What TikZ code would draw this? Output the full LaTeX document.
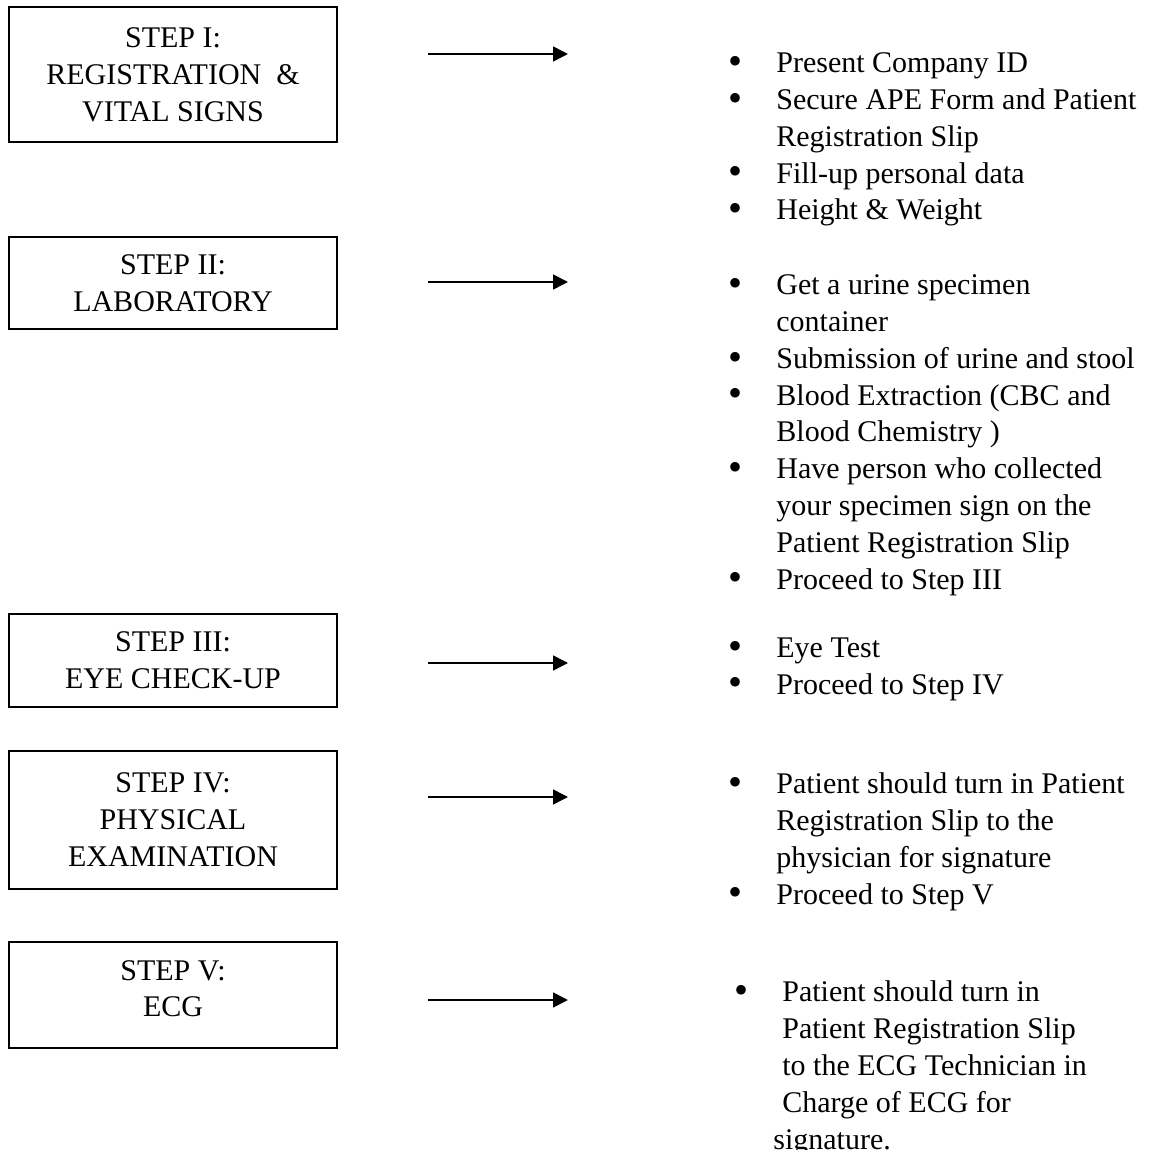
\documentclass[tikz,border=0pt]{standalone}
\usepackage{fontspec}
\setmainfont{Liberation Serif}
\usetikzlibrary{positioning,arrows.meta}
\newcommand{\bul}{\llap{\raisebox{-0.9pt}{\fontsize{20}{20}\selectfont\textbullet}\hspace{17pt}}}

\begin{document}
\begin{tikzpicture}[x=0.5pt, y=-0.5pt,
    boxStyle/.style={
        rectangle, draw=black, line width=0.8pt, minimum width=164pt,
        align=center, inner sep=0pt, font=\fontsize{15}{18.4}\selectfont
    },
    listStyle/.style={
        anchor=base west, align=left, inner sep=0pt, font=\fontsize{15}{18.4}\selectfont
    },
    arrowStyle/.style={-{Triangle[length=7.5pt, width=7.5pt]}, line width=0.8pt}
]
    \useasboundingbox (0,0) rectangle (1158,1150);

    % Steps
    \node[boxStyle, minimum height=67.5pt] (s1) at (173,74.5) {STEP I:\\REGISTRATION \ \&\\VITAL SIGNS};
    \node[boxStyle, minimum height=46pt] (s2) at (173,283) {STEP II:\\LABORATORY};
    \node[boxStyle, minimum height=46.5pt] (s3) at (173,660.5) {STEP III:\\EYE CHECK-UP};
    \node[boxStyle, minimum height=69pt] (s4) at (173,820) {STEP IV:\\PHYSICAL\\EXAMINATION};
    \node[boxStyle, minimum height=53pt] (s5) at (173,995) {STEP V:\\ECG\\[-12pt]};

    % Arrows
    \foreach \i/\y in {1/54, 2/282, 3/663, 4/797, 5/1000} {
        \coordinate (tail\i) at (428,\y);
        \coordinate (head\i) at (568,\y);
        \draw[arrowStyle] (tail\i) -- (head\i);
    }

    % Lists (anchored at the baseline of their last line)
    \node[listStyle] (l1) at (776,220) {
        \bul Present Company ID\\
        \bul Secure APE Form and Patient\\
        Registration Slip\\
        \bul Fill-up personal data\\
        \bul Height \& Weight
    };
    \node[listStyle] (l2) at (776,589) {
        \bul Get a urine specimen\\
        container\\
        \bul Submission of urine and stool\\
        \bul Blood Extraction (CBC and\\
        Blood Chemistry )\\
        \bul Have person who collected\\
        your specimen sign on the\\
        Patient Registration Slip\\
        \bul Proceed to Step III
    };
    \node[listStyle] (l3) at (776,694) {
        \bul Eye Test\\
        \bul Proceed to Step IV
    };
    \node[listStyle] (l4) at (776,904) {
        \bul Patient should turn in Patient\\
        Registration Slip to the\\
        physician for signature\\
        \bul Proceed to Step V
    };
    \node[listStyle] (l5) at (782,1149) {
        \bul Patient should turn in\\
        Patient Registration Slip\\
        to the ECG Technician in\\
        Charge of ECG for\\
        \hspace{-4.5pt}signature.
    };
\end{tikzpicture}
\end{document}
